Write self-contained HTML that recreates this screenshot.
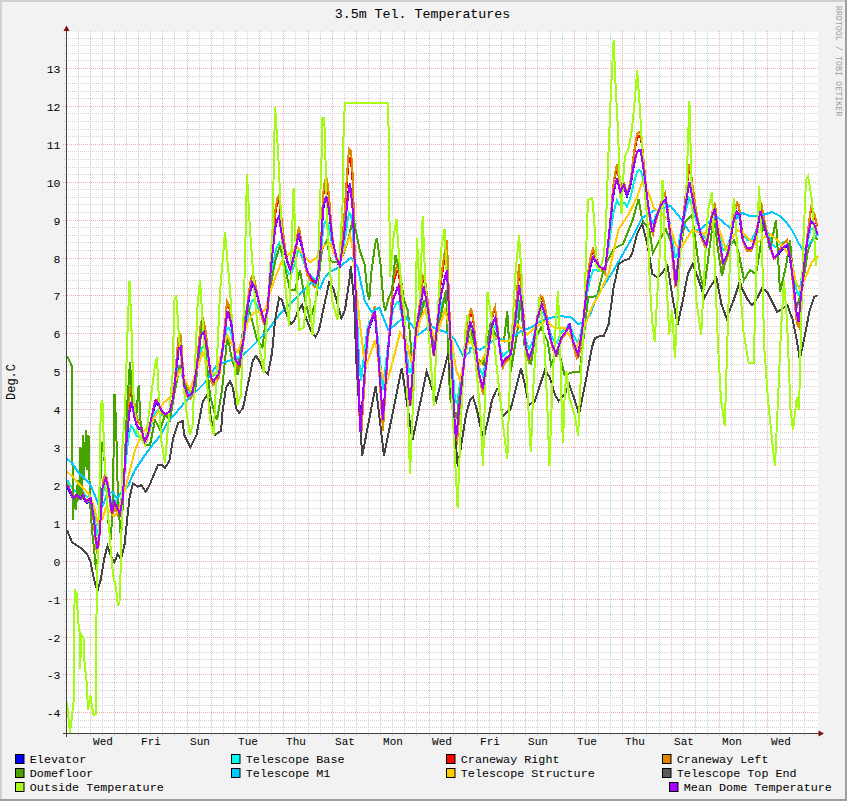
<!DOCTYPE html><html><head><meta charset="utf-8"><style>
html,body{margin:0;padding:0;background:#F2F2F2;overflow:hidden}
svg{display:block}
text{font-family:"Liberation Mono",monospace;fill:#000}
.title{font-size:13.3px}
.lab{font-size:11.5px}
.lab2{font-size:12px}
.labx{font-size:11px}
.leg{font-size:11.75px}
.wm{font-size:8.4px;fill:#A0A0A0}
</style></head><body><svg width="847" height="801" viewBox="0 0 847 801">
<rect x="0" y="0" width="847" height="801" fill="#F2F2F2"/>
<rect x="0" y="0" width="847" height="2" fill="#D0D0D0"/><rect x="0" y="0" width="2" height="801" fill="#D0D0D0"/>
<rect x="845" y="0" width="2" height="801" fill="#9E9E9E"/><rect x="0" y="799" width="847" height="2" fill="#9E9E9E"/>
<rect x="67" y="32" width="751" height="701" fill="#FFFFFF"/>
<path d="M78.5 31V736 M102.5 31V736 M126.5 31V736 M150.5 31V736 M174.5 31V736 M199.5 31V736 M223.5 31V736 M247.5 31V736 M271.5 31V736 M295.5 31V736 M320.5 31V736 M344.5 31V736 M368.5 31V736 M392.5 31V736 M416.5 31V736 M441.5 31V736 M465.5 31V736 M489.5 31V736 M513.5 31V736 M537.5 31V736 M562.5 31V736 M586.5 31V736 M610.5 31V736 M634.5 31V736 M659.5 31V736 M683.5 31V736 M707.5 31V736 M731.5 31V736 M755.5 31V736 M780.5 31V736 M804.5 31V736" stroke="#D2D2D2" stroke-width="1" stroke-dasharray="1 1" fill="none"/>
<path d="M90.5 31V737 M114.5 31V737 M138.5 31V737 M162.5 31V737 M187.5 31V737 M211.5 31V737 M235.5 31V737 M259.5 31V737 M283.5 31V737 M308.5 31V737 M332.5 31V737 M356.5 31V737 M380.5 31V737 M404.5 31V737 M429.5 31V737 M453.5 31V737 M477.5 31V737 M501.5 31V737 M525.5 31V737 M550.5 31V737 M574.5 31V737 M598.5 31V737 M622.5 31V737 M646.5 31V737 M671.5 31V737 M695.5 31V737 M719.5 31V737 M743.5 31V737 M767.5 31V737 M792.5 31V737" stroke="#F0B0B0" stroke-width="1" stroke-dasharray="1 1" fill="none"/>
<path d="M64 727.5H818 M64 720.5H818 M64 705.5H818 M64 697.5H818 M64 690.5H818 M64 682.5H818 M64 667.5H818 M64 659.5H818 M64 652.5H818 M64 644.5H818 M64 629.5H818 M64 621.5H818 M64 614.5H818 M64 606.5H818 M64 591.5H818 M64 583.5H818 M64 576.5H818 M64 568.5H818 M64 553.5H818 M64 546.5H818 M64 538.5H818 M64 530.5H818 M64 515.5H818 M64 508.5H818 M64 500.5H818 M64 492.5H818 M64 477.5H818 M64 470.5H818 M64 462.5H818 M64 455.5H818 M64 439.5H818 M64 432.5H818 M64 424.5H818 M64 417.5H818 M64 402.5H818 M64 394.5H818 M64 386.5H818 M64 379.5H818 M64 364.5H818 M64 356.5H818 M64 348.5H818 M64 341.5H818 M64 326.5H818 M64 318.5H818 M64 311.5H818 M64 303.5H818 M64 288.5H818 M64 280.5H818 M64 273.5H818 M64 265.5H818 M64 250.5H818 M64 242.5H818 M64 235.5H818 M64 227.5H818 M64 212.5H818 M64 204.5H818 M64 197.5H818 M64 189.5H818 M64 174.5H818 M64 167.5H818 M64 159.5H818 M64 151.5H818 M64 136.5H818 M64 129.5H818 M64 121.5H818 M64 113.5H818 M64 98.5H818 M64 91.5H818 M64 83.5H818 M64 76.5H818 M64 60.5H818 M64 53.5H818 M64 45.5H818 M64 38.5H818" stroke="#D2D2D2" stroke-width="1" stroke-dasharray="1 1" fill="none"/>
<path d="M63 712.5H818 M63 674.5H818 M63 637.5H818 M63 599.5H818 M63 561.5H818 M63 523.5H818 M63 485.5H818 M63 447.5H818 M63 409.5H818 M63 371.5H818 M63 333.5H818 M63 295.5H818 M63 258.5H818 M63 220.5H818 M63 182.5H818 M63 144.5H818 M63 106.5H818 M63 68.5H818" stroke="#F0B0B0" stroke-width="1" stroke-dasharray="1 1" fill="none"/>
<text x="60.5" y="716.5" text-anchor="end" class="lab">-4</text>
<text x="60.5" y="678.5" text-anchor="end" class="lab">-3</text>
<text x="60.5" y="641.5" text-anchor="end" class="lab">-2</text>
<text x="60.5" y="603.5" text-anchor="end" class="lab">-1</text>
<text x="60.5" y="565.5" text-anchor="end" class="lab">0</text>
<text x="60.5" y="527.5" text-anchor="end" class="lab">1</text>
<text x="60.5" y="489.5" text-anchor="end" class="lab">2</text>
<text x="60.5" y="451.5" text-anchor="end" class="lab">3</text>
<text x="60.5" y="413.5" text-anchor="end" class="lab">4</text>
<text x="60.5" y="375.5" text-anchor="end" class="lab">5</text>
<text x="60.5" y="337.5" text-anchor="end" class="lab">6</text>
<text x="60.5" y="299.5" text-anchor="end" class="lab">7</text>
<text x="60.5" y="262.5" text-anchor="end" class="lab">8</text>
<text x="60.5" y="224.5" text-anchor="end" class="lab">9</text>
<text x="60.5" y="186.5" text-anchor="end" class="lab">10</text>
<text x="60.5" y="148.5" text-anchor="end" class="lab">11</text>
<text x="60.5" y="110.5" text-anchor="end" class="lab">12</text>
<text x="60.5" y="72.5" text-anchor="end" class="lab">13</text>
<text x="103.0" y="745" text-anchor="middle" class="labx">Wed</text>
<text x="151.0" y="745" text-anchor="middle" class="labx">Fri</text>
<text x="200.0" y="745" text-anchor="middle" class="labx">Sun</text>
<text x="248.0" y="745" text-anchor="middle" class="labx">Tue</text>
<text x="296.0" y="745" text-anchor="middle" class="labx">Thu</text>
<text x="345.0" y="745" text-anchor="middle" class="labx">Sat</text>
<text x="393.0" y="745" text-anchor="middle" class="labx">Mon</text>
<text x="442.0" y="745" text-anchor="middle" class="labx">Wed</text>
<text x="490.0" y="745" text-anchor="middle" class="labx">Fri</text>
<text x="538.0" y="745" text-anchor="middle" class="labx">Sun</text>
<text x="587.0" y="745" text-anchor="middle" class="labx">Tue</text>
<text x="635.0" y="745" text-anchor="middle" class="labx">Thu</text>
<text x="684.0" y="745" text-anchor="middle" class="labx">Sat</text>
<text x="732.0" y="745" text-anchor="middle" class="labx">Mon</text>
<text x="781.0" y="745" text-anchor="middle" class="labx">Wed</text>
<path d="M67.0 486.3 L69.0 490.3 L71.0 494.4 L73.0 498.5 L75.0 498.8 L77.0 496.6 L79.0 498.4 L81.0 499.3 L83.0 496.7 L85.0 500.9 L87.0 502.9 L89.0 501.2 L91.0 502.1 L93.0 514.4 L95.0 532.8 L97.0 549.5 L99.0 540.1 L101.0 513.8 L103.0 487.6 L105.0 481.5 L107.0 483.7 L109.0 493.6 L111.0 509.2 L113.0 510.4 L115.0 505.6 L117.0 509.8 L119.0 514.2 L121.0 510.5 L123.0 495.9 L125.0 465.2 L127.0 437.9 L129.0 415.0 L131.0 404.4 L133.0 408.9 L135.0 419.4 L137.0 425.9 L139.0 428.7 L141.0 428.9 L143.0 436.5 L145.0 442.3 L147.0 438.3 L149.0 431.1 L151.0 420.9 L153.0 412.6 L155.0 404.7 L157.0 402.9 L159.0 406.2 L161.0 411.4 L163.0 413.8 L165.0 415.5 L167.0 415.1 L169.0 413.5 L171.0 408.1 L173.0 400.0 L175.0 383.0 L177.0 363.4 L179.0 349.0 L181.0 350.7 L183.0 374.1 L185.0 389.4 L187.0 394.6 L189.0 397.4 L191.0 396.4 L193.0 391.8 L195.0 379.5 L197.0 366.1 L199.0 349.4 L201.0 335.5 L203.0 333.0 L205.0 337.7 L207.0 348.3 L209.0 362.5 L211.0 379.4 L213.0 382.4 L215.0 381.6 L217.0 378.5 L219.0 375.4 L221.0 361.9 L223.0 347.5 L225.0 331.1 L227.0 314.4 L229.0 316.4 L231.0 322.8 L233.0 338.6 L235.0 357.2 L237.0 364.5 L239.0 366.6 L241.0 358.3 L243.0 344.0 L245.0 328.5 L247.0 312.0 L249.0 298.6 L251.0 288.3 L253.0 284.7 L255.0 289.1 L257.0 295.1 L259.0 303.5 L261.0 311.5 L263.0 318.8 L265.0 322.2 L267.0 315.0 L269.0 293.3 L271.0 268.6 L273.0 248.4 L275.0 229.6 L277.0 220.5 L279.0 216.4 L281.0 229.6 L283.0 241.7 L285.0 252.2 L287.0 261.3 L289.0 267.5 L291.0 269.5 L293.0 261.3 L295.0 252.6 L297.0 242.1 L299.0 235.0 L301.0 243.5 L303.0 252.2 L305.0 262.5 L307.0 272.4 L309.0 275.8 L311.0 279.2 L313.0 281.9 L315.0 283.9 L317.0 281.0 L319.0 267.0 L321.0 246.4 L323.0 210.9 L325.0 199.7 L327.0 199.0 L329.0 209.9 L331.0 228.4 L333.0 243.9 L335.0 252.7 L337.0 260.5 L339.0 265.6 L341.0 258.6 L343.0 243.7 L345.0 225.5 L347.0 204.3 L349.0 187.3 L351.0 190.0 L353.0 211.6 L355.0 274.2 L357.0 336.2 L359.0 397.8 L361.0 427.0 L363.0 397.9 L365.0 370.5 L367.0 344.7 L369.0 328.9 L371.0 323.1 L373.0 317.2 L375.0 314.4 L377.0 339.5 L379.0 366.5 L381.0 395.8 L383.0 422.3 L385.0 394.0 L387.0 365.8 L389.0 341.3 L391.0 320.4 L393.0 299.4 L395.0 294.2 L397.0 288.9 L399.0 290.7 L401.0 305.7 L403.0 320.6 L405.0 346.3 L407.0 371.7 L409.0 397.1 L411.0 396.8 L413.0 370.7 L415.0 344.7 L417.0 325.9 L419.0 314.3 L421.0 302.6 L423.0 291.0 L425.0 293.3 L427.0 304.8 L429.0 318.7 L431.0 334.9 L433.0 350.9 L435.0 347.7 L437.0 328.6 L439.0 309.4 L441.0 295.2 L443.0 286.0 L445.0 276.9 L447.0 270.2 L449.0 310.8 L451.0 351.4 L453.0 391.7 L455.0 432.1 L457.0 433.6 L459.0 413.0 L461.0 393.0 L463.0 373.7 L465.0 354.5 L467.0 341.2 L469.0 328.6 L471.0 323.2 L473.0 329.4 L475.0 343.0 L477.0 359.8 L479.0 374.8 L481.0 382.8 L483.0 390.8 L485.0 375.8 L487.0 360.4 L489.0 346.6 L491.0 332.7 L493.0 323.0 L495.0 318.9 L497.0 328.9 L499.0 343.6 L501.0 358.0 L503.0 365.4 L505.0 361.3 L507.0 359.1 L509.0 357.8 L511.0 354.3 L513.0 339.2 L515.0 323.9 L517.0 305.7 L519.0 285.8 L521.0 297.7 L523.0 314.4 L525.0 339.5 L527.0 353.5 L529.0 359.7 L531.0 354.9 L533.0 347.4 L535.0 335.1 L537.0 322.6 L539.0 313.8 L541.0 306.8 L543.0 308.6 L545.0 315.0 L547.0 322.9 L549.0 332.7 L551.0 342.3 L553.0 348.1 L555.0 353.6 L557.0 354.0 L559.0 347.2 L561.0 340.4 L563.0 337.2 L565.0 334.5 L567.0 331.3 L569.0 327.2 L571.0 332.8 L573.0 343.2 L575.0 348.8 L577.0 354.4 L579.0 352.0 L581.0 340.1 L583.0 325.2 L585.0 306.3 L587.0 288.4 L589.0 274.0 L591.0 264.3 L593.0 258.2 L595.0 260.4 L597.0 263.9 L599.0 267.2 L601.0 269.4 L603.0 270.5 L605.0 271.6 L607.0 254.9 L609.0 236.3 L611.0 217.1 L613.0 197.8 L615.0 186.3 L617.0 178.4 L619.0 187.0 L621.0 191.4 L623.0 187.3 L625.0 190.0 L627.0 196.4 L629.0 190.6 L631.0 182.7 L633.0 170.2 L635.0 160.1 L637.0 151.8 L639.0 150.0 L641.0 152.1 L643.0 165.7 L645.0 181.0 L647.0 197.7 L649.0 212.3 L651.0 226.3 L653.0 231.9 L655.0 223.6 L657.0 217.1 L659.0 211.5 L661.0 206.1 L663.0 203.3 L665.0 200.4 L667.0 208.9 L669.0 225.5 L671.0 241.9 L673.0 259.2 L675.0 279.8 L677.0 277.8 L679.0 255.1 L681.0 238.7 L683.0 223.6 L685.0 209.0 L687.0 196.4 L689.0 183.7 L691.0 189.7 L693.0 200.9 L695.0 211.3 L697.0 219.7 L699.0 228.1 L701.0 236.4 L703.0 241.0 L705.0 245.1 L707.0 243.9 L709.0 232.9 L711.0 221.8 L713.0 214.6 L715.0 211.2 L717.0 225.8 L719.0 239.4 L721.0 251.7 L723.0 264.0 L725.0 261.1 L727.0 256.9 L729.0 249.5 L731.0 237.2 L733.0 224.6 L735.0 217.5 L737.0 212.8 L739.0 214.9 L741.0 228.6 L743.0 241.8 L745.0 245.9 L747.0 249.8 L749.0 249.8 L751.0 249.8 L753.0 246.3 L755.0 239.4 L757.0 232.4 L759.0 219.9 L761.0 213.6 L763.0 221.9 L765.0 229.4 L767.0 236.3 L769.0 243.2 L771.0 250.0 L773.0 256.8 L775.0 258.6 L777.0 256.5 L779.0 253.7 L781.0 250.9 L783.0 248.6 L785.0 247.2 L787.0 245.8 L789.0 254.1 L791.0 265.3 L793.0 281.8 L795.0 300.1 L797.0 318.0 L799.0 320.3 L801.0 299.7 L803.0 279.2 L805.0 260.2 L807.0 243.6 L809.0 231.3 L811.0 221.1 L813.0 223.2 L815.0 226.8 L817.0 233.1" stroke="#0000FF" stroke-width="2" fill="none" shape-rendering="crispEdges"/>
<path d="M67.0 479.9 L69.0 483.0 L71.0 486.3 L73.0 489.8 L75.0 490.9 L77.0 490.2 L79.0 491.9 L81.0 492.9 L83.0 491.7 L85.0 494.9 L87.0 496.8 L89.0 496.2 L91.0 497.6 L93.0 506.9 L95.0 520.3 L97.0 532.6 L99.0 527.5 L101.0 509.6 L103.0 492.0 L105.0 486.4 L107.0 486.2 L109.0 492.1 L111.0 501.9 L113.0 502.6 L115.0 499.6 L117.0 502.6 L119.0 504.7 L121.0 501.3 L123.0 490.6 L125.0 469.2 L127.0 450.4 L129.0 434.3 L131.0 425.9 L133.0 427.5 L135.0 432.9 L137.0 436.0 L139.0 436.8 L141.0 435.8 L143.0 439.7 L145.0 442.4 L147.0 438.7 L149.0 432.8 L151.0 425.0 L153.0 418.6 L155.0 412.5 L157.0 410.6 L159.0 412.1 L161.0 414.8 L163.0 415.4 L165.0 415.6 L167.0 414.4 L169.0 412.5 L171.0 408.2 L173.0 401.9 L175.0 389.9 L177.0 376.1 L179.0 365.7 L181.0 366.0 L183.0 380.5 L185.0 389.9 L187.0 392.7 L189.0 394.0 L191.0 392.7 L193.0 389.1 L195.0 380.4 L197.0 370.9 L199.0 359.2 L201.0 349.4 L203.0 347.1 L205.0 349.5 L207.0 355.7 L209.0 364.2 L211.0 374.8 L213.0 376.0 L215.0 374.7 L217.0 371.8 L219.0 369.3 L221.0 359.9 L223.0 349.9 L225.0 338.7 L227.0 327.4 L229.0 328.3 L231.0 332.1 L233.0 342.1 L235.0 354.1 L237.0 358.5 L239.0 359.5 L241.0 353.6 L243.0 343.4 L245.0 332.2 L247.0 320.4 L249.0 310.7 L251.0 303.0 L253.0 299.7 L255.0 301.7 L257.0 304.7 L259.0 309.5 L261.0 313.9 L263.0 317.9 L265.0 319.3 L267.0 313.6 L269.0 298.1 L271.0 280.8 L273.0 266.6 L275.0 253.4 L277.0 246.7 L279.0 243.3 L281.0 251.3 L283.0 258.7 L285.0 265.0 L287.0 270.4 L289.0 273.9 L291.0 274.6 L293.0 268.5 L295.0 262.2 L297.0 254.7 L299.0 249.4 L301.0 254.3 L303.0 259.5 L305.0 265.9 L307.0 272.1 L309.0 273.9 L311.0 275.8 L313.0 277.6 L315.0 279.3 L317.0 277.6 L319.0 268.5 L321.0 254.3 L323.0 229.8 L325.0 221.4 L327.0 220.3 L329.0 226.9 L331.0 238.7 L333.0 249.0 L335.0 255.2 L337.0 260.7 L339.0 264.3 L341.0 259.8 L343.0 250.1 L345.0 238.0 L347.0 224.2 L349.0 213.2 L351.0 215.2 L353.0 230.6 L355.0 273.0 L357.0 315.4 L359.0 359.0 L361.0 381.1 L363.0 364.3 L365.0 348.2 L367.0 332.0 L369.0 322.4 L371.0 319.6 L373.0 316.1 L375.0 314.5 L377.0 331.3 L379.0 349.6 L381.0 370.4 L383.0 389.4 L385.0 371.8 L387.0 353.9 L389.0 338.1 L391.0 323.9 L393.0 309.7 L395.0 305.8 L397.0 301.9 L399.0 302.6 L401.0 311.9 L403.0 321.1 L405.0 337.5 L407.0 354.7 L409.0 371.9 L411.0 372.1 L413.0 355.1 L415.0 338.2 L417.0 326.1 L419.0 318.9 L421.0 310.8 L423.0 302.8 L425.0 304.2 L427.0 311.7 L429.0 320.8 L431.0 331.8 L433.0 342.9 L435.0 341.1 L437.0 328.6 L439.0 316.2 L441.0 307.0 L443.0 301.2 L445.0 295.4 L447.0 291.5 L449.0 318.5 L451.0 345.8 L453.0 373.3 L455.0 400.9 L457.0 403.1 L459.0 390.4 L461.0 378.0 L463.0 366.1 L465.0 353.5 L467.0 344.6 L469.0 336.1 L471.0 331.8 L473.0 336.2 L475.0 345.4 L477.0 356.5 L479.0 366.5 L481.0 371.5 L483.0 376.2 L485.0 365.7 L487.0 354.9 L489.0 345.2 L491.0 335.6 L493.0 328.8 L495.0 325.6 L497.0 331.7 L499.0 341.4 L501.0 351.1 L503.0 356.2 L505.0 353.6 L507.0 352.1 L509.0 350.8 L511.0 347.9 L513.0 337.3 L515.0 326.8 L517.0 314.4 L519.0 301.0 L521.0 308.5 L523.0 319.2 L525.0 335.6 L527.0 344.7 L529.0 348.6 L531.0 345.2 L533.0 339.9 L535.0 331.3 L537.0 322.7 L539.0 316.7 L541.0 311.8 L543.0 312.9 L545.0 317.1 L547.0 322.4 L549.0 328.8 L551.0 335.1 L553.0 338.9 L555.0 342.4 L557.0 342.5 L559.0 337.8 L561.0 333.0 L563.0 330.8 L565.0 328.8 L567.0 326.6 L569.0 323.7 L571.0 327.3 L573.0 334.3 L575.0 338.3 L577.0 342.1 L579.0 340.3 L581.0 331.8 L583.0 321.1 L585.0 307.8 L587.0 294.9 L589.0 284.2 L591.0 276.3 L593.0 270.4 L595.0 270.0 L597.0 270.4 L599.0 271.2 L601.0 271.2 L603.0 270.6 L605.0 269.9 L607.0 257.3 L609.0 243.6 L611.0 229.5 L613.0 215.5 L615.0 206.6 L617.0 200.2 L619.0 204.6 L621.0 206.3 L623.0 202.5 L625.0 203.3 L627.0 206.5 L629.0 201.7 L631.0 195.5 L633.0 186.4 L635.0 178.7 L637.0 172.3 L639.0 170.3 L641.0 170.9 L643.0 179.3 L645.0 189.2 L647.0 200.1 L649.0 209.9 L651.0 219.4 L653.0 223.2 L655.0 217.8 L657.0 213.5 L659.0 209.9 L661.0 206.4 L663.0 204.6 L665.0 202.8 L667.0 208.4 L669.0 219.4 L671.0 230.6 L673.0 242.8 L675.0 257.1 L677.0 256.4 L679.0 241.9 L681.0 231.7 L683.0 222.3 L685.0 213.6 L687.0 206.0 L689.0 198.5 L691.0 202.6 L693.0 209.9 L695.0 216.7 L697.0 222.2 L699.0 227.6 L701.0 232.8 L703.0 235.4 L705.0 237.7 L707.0 236.5 L709.0 228.8 L711.0 221.1 L713.0 216.1 L715.0 213.6 L717.0 223.4 L719.0 232.9 L721.0 241.7 L723.0 250.4 L725.0 248.9 L727.0 246.6 L729.0 242.1 L731.0 233.7 L733.0 224.7 L735.0 219.4 L737.0 215.6 L739.0 216.5 L741.0 225.2 L743.0 233.9 L745.0 236.8 L747.0 239.6 L749.0 239.8 L751.0 239.8 L753.0 237.5 L755.0 232.9 L757.0 228.4 L759.0 220.2 L761.0 216.2 L763.0 221.7 L765.0 226.6 L767.0 231.2 L769.0 235.8 L771.0 240.4 L773.0 245.3 L775.0 247.0 L777.0 246.0 L779.0 244.5 L781.0 243.1 L783.0 242.0 L785.0 241.6 L787.0 241.2 L789.0 247.3 L791.0 255.3 L793.0 267.0 L795.0 280.1 L797.0 292.8 L799.0 295.0 L801.0 281.9 L803.0 268.8 L805.0 255.7 L807.0 244.3 L809.0 235.7 L811.0 228.4 L813.0 229.2 L815.0 230.9 L817.0 234.5" stroke="#00F0E0" stroke-width="2" fill="none" shape-rendering="crispEdges"/>
<path d="M67.0 482.8 L69.0 487.7 L71.0 492.5 L73.0 497.0 L75.0 496.9 L77.0 493.9 L79.0 496.2 L81.0 497.5 L83.0 494.0 L85.0 499.4 L87.0 501.4 L89.0 499.3 L91.0 500.2 L93.0 513.4 L95.0 532.6 L97.0 550.1 L99.0 540.3 L101.0 512.8 L103.0 481.8 L105.0 474.8 L107.0 478.9 L109.0 492.3 L111.0 508.7 L113.0 510.1 L115.0 505.2 L117.0 509.8 L119.0 514.5 L121.0 510.9 L123.0 495.7 L125.0 463.7 L127.0 429.3 L129.0 400.2 L131.0 387.3 L133.0 394.1 L135.0 409.0 L137.0 418.6 L139.0 423.6 L141.0 424.9 L143.0 435.2 L145.0 441.4 L147.0 437.4 L149.0 430.1 L151.0 419.6 L153.0 410.7 L155.0 401.2 L157.0 399.5 L159.0 404.2 L161.0 410.2 L163.0 412.7 L165.0 414.5 L167.0 414.2 L169.0 412.6 L171.0 407.1 L173.0 398.7 L175.0 378.6 L177.0 353.9 L179.0 335.9 L181.0 338.9 L183.0 370.4 L185.0 388.4 L187.0 393.9 L189.0 396.9 L191.0 395.9 L193.0 391.2 L195.0 378.4 L197.0 363.1 L199.0 341.9 L201.0 324.4 L203.0 321.8 L205.0 328.4 L207.0 342.5 L209.0 361.1 L211.0 378.9 L213.0 382.0 L215.0 381.3 L217.0 378.1 L219.0 375.0 L221.0 360.9 L223.0 345.6 L225.0 324.7 L227.0 303.4 L229.0 306.6 L231.0 315.6 L233.0 337.1 L235.0 356.7 L237.0 364.4 L239.0 366.8 L241.0 358.2 L243.0 343.3 L245.0 327.3 L247.0 308.2 L249.0 291.9 L251.0 279.7 L253.0 276.1 L255.0 283.0 L257.0 292.0 L259.0 302.3 L261.0 310.9 L263.0 318.8 L265.0 322.5 L267.0 315.1 L269.0 292.6 L271.0 265.2 L273.0 239.5 L275.0 215.7 L277.0 204.2 L279.0 199.3 L281.0 216.9 L283.0 233.0 L285.0 247.2 L287.0 259.5 L289.0 266.4 L291.0 268.5 L293.0 260.0 L295.0 249.8 L297.0 236.6 L299.0 227.8 L301.0 239.4 L303.0 250.7 L305.0 261.5 L307.0 271.9 L309.0 275.5 L311.0 279.1 L313.0 281.8 L315.0 284.0 L317.0 281.0 L319.0 266.3 L321.0 244.1 L323.0 197.9 L325.0 183.8 L327.0 183.5 L329.0 198.1 L331.0 222.0 L333.0 241.4 L335.0 251.2 L337.0 259.2 L339.0 264.3 L341.0 254.9 L343.0 234.7 L345.0 210.0 L347.0 181.4 L349.0 157.8 L351.0 159.9 L353.0 186.5 L355.0 266.8 L357.0 336.4 L359.0 400.7 L361.0 431.1 L363.0 400.4 L365.0 371.5 L367.0 344.3 L369.0 327.7 L371.0 320.9 L373.0 312.2 L375.0 307.2 L377.0 338.1 L379.0 366.2 L381.0 396.8 L383.0 424.4 L385.0 394.7 L387.0 365.2 L389.0 338.5 L391.0 311.4 L393.0 284.2 L395.0 277.5 L397.0 270.9 L399.0 273.6 L401.0 293.5 L403.0 313.5 L405.0 345.3 L407.0 372.0 L409.0 398.7 L411.0 398.5 L413.0 371.3 L415.0 344.0 L417.0 324.4 L419.0 309.4 L421.0 294.3 L423.0 279.1 L425.0 281.7 L427.0 296.2 L429.0 313.5 L431.0 333.4 L433.0 350.1 L435.0 346.7 L437.0 324.5 L439.0 299.3 L441.0 280.6 L443.0 268.5 L445.0 256.3 L447.0 247.3 L449.0 300.2 L451.0 350.3 L453.0 392.5 L455.0 434.7 L457.0 436.3 L459.0 414.5 L461.0 393.5 L463.0 373.3 L465.0 353.0 L467.0 335.6 L469.0 318.6 L471.0 311.1 L473.0 318.5 L475.0 335.8 L477.0 357.6 L479.0 374.0 L481.0 382.5 L483.0 391.0 L485.0 375.4 L487.0 359.3 L489.0 344.0 L491.0 326.2 L493.0 314.0 L495.0 309.1 L497.0 322.4 L499.0 341.9 L501.0 357.2 L503.0 365.0 L505.0 360.7 L507.0 358.4 L509.0 357.1 L511.0 353.5 L513.0 337.8 L515.0 318.6 L517.0 295.0 L519.0 269.0 L521.0 284.8 L523.0 306.7 L525.0 338.3 L527.0 353.0 L529.0 359.5 L531.0 354.5 L533.0 346.7 L535.0 333.7 L537.0 318.4 L539.0 306.9 L541.0 297.6 L543.0 299.8 L545.0 307.7 L547.0 317.7 L549.0 330.1 L551.0 341.1 L553.0 347.1 L555.0 352.9 L557.0 353.4 L559.0 346.3 L561.0 339.2 L563.0 336.0 L565.0 333.2 L567.0 330.0 L569.0 325.8 L571.0 331.8 L573.0 342.7 L575.0 348.8 L577.0 354.8 L579.0 352.4 L581.0 340.1 L583.0 324.6 L585.0 305.0 L587.0 284.4 L589.0 267.2 L591.0 256.2 L593.0 250.2 L595.0 254.8 L597.0 261.0 L599.0 266.0 L601.0 268.5 L603.0 270.0 L605.0 271.4 L607.0 254.2 L609.0 235.1 L611.0 213.1 L613.0 189.5 L615.0 175.9 L617.0 166.9 L619.0 179.3 L621.0 185.9 L623.0 181.4 L625.0 185.5 L627.0 194.4 L629.0 187.4 L631.0 177.5 L633.0 161.6 L635.0 148.8 L637.0 138.0 L639.0 135.7 L641.0 138.4 L643.0 155.8 L645.0 175.3 L647.0 196.2 L649.0 211.4 L651.0 225.9 L653.0 231.7 L655.0 222.9 L657.0 215.9 L659.0 209.9 L661.0 202.3 L663.0 198.1 L665.0 193.9 L667.0 204.5 L669.0 224.3 L671.0 241.4 L673.0 259.5 L675.0 281.0 L677.0 278.9 L679.0 255.1 L681.0 237.9 L683.0 221.4 L685.0 202.0 L687.0 185.3 L689.0 168.6 L691.0 176.2 L693.0 190.6 L695.0 204.1 L697.0 214.9 L699.0 225.8 L701.0 235.2 L703.0 240.1 L705.0 244.4 L707.0 243.2 L709.0 231.7 L711.0 218.3 L713.0 208.7 L715.0 203.9 L717.0 222.6 L719.0 238.2 L721.0 251.0 L723.0 263.9 L725.0 260.8 L727.0 256.4 L729.0 248.6 L731.0 235.6 L733.0 219.3 L735.0 210.2 L737.0 204.1 L739.0 206.7 L741.0 224.5 L743.0 240.5 L745.0 244.8 L747.0 248.9 L749.0 248.9 L751.0 248.9 L753.0 245.2 L755.0 238.0 L757.0 229.1 L759.0 212.4 L761.0 203.8 L763.0 214.3 L765.0 223.6 L767.0 232.1 L769.0 240.6 L771.0 248.6 L773.0 255.6 L775.0 257.3 L777.0 255.0 L779.0 251.3 L781.0 247.4 L783.0 244.2 L785.0 242.3 L787.0 240.3 L789.0 251.3 L791.0 264.2 L793.0 281.4 L795.0 300.7 L797.0 319.4 L799.0 321.9 L801.0 300.4 L803.0 278.9 L805.0 259.0 L807.0 239.0 L809.0 223.0 L811.0 209.8 L813.0 212.8 L815.0 217.7 L817.0 226.4" stroke="#FF0000" stroke-width="2" fill="none" shape-rendering="crispEdges"/>
<path d="M67.0 483.1 L69.0 488.4 L71.0 493.4 L73.0 498.0 L75.0 497.8 L77.0 494.5 L79.0 496.9 L81.0 498.4 L83.0 494.6 L85.0 500.4 L87.0 502.5 L89.0 500.2 L91.0 501.0 L93.0 515.1 L95.0 535.5 L97.0 554.1 L99.0 543.7 L101.0 514.4 L103.0 481.3 L105.0 473.9 L107.0 478.7 L109.0 493.4 L111.0 511.1 L113.0 512.8 L115.0 507.8 L117.0 512.8 L119.0 518.1 L121.0 514.4 L123.0 498.6 L125.0 464.8 L127.0 427.7 L129.0 396.4 L131.0 382.6 L133.0 390.3 L135.0 406.7 L137.0 417.5 L139.0 423.3 L141.0 425.0 L143.0 436.4 L145.0 443.3 L147.0 439.3 L149.0 431.7 L151.0 420.8 L153.0 411.6 L155.0 401.5 L157.0 399.8 L159.0 405.0 L161.0 411.5 L163.0 414.3 L165.0 416.2 L167.0 416.0 L169.0 414.4 L171.0 408.7 L173.0 400.0 L175.0 378.5 L177.0 352.0 L179.0 332.7 L181.0 336.2 L183.0 370.6 L185.0 390.0 L187.0 396.0 L189.0 399.3 L191.0 398.3 L193.0 393.4 L195.0 379.8 L197.0 363.6 L199.0 340.7 L201.0 321.9 L203.0 319.2 L205.0 326.5 L207.0 342.0 L209.0 362.2 L211.0 381.2 L213.0 384.7 L215.0 384.0 L217.0 380.7 L219.0 377.5 L221.0 362.6 L223.0 346.4 L225.0 323.9 L227.0 300.9 L229.0 304.7 L231.0 314.5 L233.0 338.0 L235.0 359.1 L237.0 367.5 L239.0 370.1 L241.0 361.2 L243.0 345.5 L245.0 328.6 L247.0 308.3 L249.0 291.0 L251.0 278.1 L253.0 274.5 L255.0 282.4 L257.0 292.5 L259.0 303.8 L261.0 313.2 L263.0 321.9 L265.0 326.1 L267.0 318.4 L269.0 294.6 L271.0 265.5 L273.0 237.9 L275.0 212.1 L277.0 199.9 L279.0 194.6 L281.0 213.8 L283.0 231.4 L285.0 246.9 L287.0 260.4 L289.0 267.8 L291.0 270.2 L293.0 261.2 L295.0 250.4 L297.0 236.1 L299.0 226.7 L301.0 239.4 L303.0 251.8 L305.0 263.3 L307.0 274.4 L309.0 278.1 L311.0 282.0 L313.0 284.9 L315.0 287.2 L317.0 284.0 L319.0 268.4 L321.0 244.8 L323.0 194.8 L325.0 179.6 L327.0 179.4 L329.0 195.3 L331.0 221.2 L333.0 242.0 L335.0 252.2 L337.0 260.3 L339.0 265.5 L341.0 255.1 L343.0 233.0 L345.0 206.0 L347.0 174.6 L349.0 148.6 L351.0 150.5 L353.0 178.9 L355.0 265.7 L357.0 339.9 L359.0 407.9 L361.0 439.9 L363.0 407.0 L365.0 376.0 L367.0 347.0 L369.0 329.1 L371.0 321.7 L373.0 311.9 L375.0 306.1 L377.0 339.2 L379.0 368.9 L381.0 401.2 L383.0 430.5 L385.0 398.8 L387.0 367.4 L389.0 339.0 L391.0 309.7 L393.0 280.2 L395.0 273.0 L397.0 265.9 L399.0 269.0 L401.0 290.6 L403.0 312.4 L405.0 346.9 L407.0 375.4 L409.0 404.1 L411.0 404.0 L413.0 375.1 L415.0 346.2 L417.0 325.4 L419.0 309.1 L421.0 292.8 L423.0 276.3 L425.0 279.0 L427.0 294.6 L429.0 313.1 L431.0 334.5 L433.0 352.0 L435.0 348.4 L437.0 324.6 L439.0 297.2 L441.0 276.9 L443.0 263.6 L445.0 250.4 L447.0 240.5 L449.0 297.8 L451.0 352.0 L453.0 396.7 L455.0 441.5 L457.0 443.0 L459.0 419.8 L461.0 397.4 L463.0 375.7 L465.0 354.1 L467.0 335.1 L469.0 316.5 L471.0 308.2 L473.0 316.0 L475.0 334.7 L477.0 358.3 L479.0 375.9 L481.0 385.1 L483.0 394.4 L485.0 377.9 L487.0 360.9 L489.0 344.6 L491.0 325.3 L493.0 312.2 L495.0 307.1 L497.0 321.7 L499.0 342.8 L501.0 359.1 L503.0 367.4 L505.0 362.9 L507.0 360.6 L509.0 359.3 L511.0 355.5 L513.0 338.9 L515.0 318.3 L517.0 292.7 L519.0 264.5 L521.0 281.6 L523.0 305.5 L525.0 339.7 L527.0 355.4 L529.0 362.4 L531.0 357.0 L533.0 348.7 L535.0 335.0 L537.0 318.4 L539.0 305.9 L541.0 295.8 L543.0 298.1 L545.0 306.7 L547.0 317.4 L549.0 330.7 L551.0 342.5 L553.0 348.9 L555.0 355.1 L557.0 355.7 L559.0 348.2 L561.0 340.7 L563.0 337.3 L565.0 334.5 L567.0 331.2 L569.0 326.9 L571.0 333.4 L573.0 345.2 L575.0 351.8 L577.0 358.3 L579.0 356.0 L581.0 343.1 L583.0 326.9 L585.0 306.4 L587.0 284.4 L589.0 266.2 L591.0 254.8 L593.0 248.8 L595.0 254.2 L597.0 261.5 L599.0 267.3 L601.0 270.4 L603.0 272.4 L605.0 274.3 L607.0 256.4 L609.0 236.5 L611.0 213.2 L613.0 188.0 L615.0 173.7 L617.0 164.2 L619.0 178.0 L621.0 185.5 L623.0 180.7 L625.0 185.4 L627.0 195.2 L629.0 187.7 L631.0 177.2 L633.0 160.1 L635.0 146.2 L637.0 134.5 L639.0 132.0 L641.0 134.9 L643.0 153.8 L645.0 174.8 L647.0 197.3 L649.0 213.3 L651.0 228.5 L653.0 234.5 L655.0 225.0 L657.0 217.4 L659.0 210.9 L661.0 202.5 L663.0 197.7 L665.0 193.1 L667.0 204.5 L669.0 225.7 L671.0 243.8 L673.0 263.0 L675.0 285.9 L677.0 283.6 L679.0 258.2 L681.0 239.9 L683.0 222.1 L685.0 201.0 L687.0 182.8 L689.0 164.6 L691.0 172.9 L693.0 188.4 L695.0 203.0 L697.0 214.7 L699.0 226.5 L701.0 236.6 L703.0 241.9 L705.0 246.6 L707.0 245.3 L709.0 233.0 L711.0 218.6 L713.0 208.1 L715.0 202.8 L717.0 222.9 L719.0 239.6 L721.0 253.2 L723.0 266.8 L725.0 263.4 L727.0 258.7 L729.0 250.4 L731.0 236.6 L733.0 218.9 L735.0 209.1 L737.0 202.5 L739.0 205.3 L741.0 224.6 L743.0 241.8 L745.0 246.3 L747.0 250.7 L749.0 250.7 L751.0 250.7 L753.0 246.8 L755.0 239.1 L757.0 229.5 L759.0 211.2 L761.0 201.7 L763.0 213.1 L765.0 223.0 L767.0 232.1 L769.0 241.3 L771.0 249.7 L773.0 256.9 L775.0 258.6 L777.0 256.1 L779.0 251.9 L781.0 247.6 L783.0 244.2 L785.0 242.1 L787.0 239.9 L789.0 251.8 L791.0 265.6 L793.0 284.0 L795.0 304.5 L797.0 324.5 L799.0 327.2 L801.0 304.4 L803.0 281.5 L805.0 260.5 L807.0 238.9 L809.0 221.6 L811.0 207.3 L813.0 210.5 L815.0 215.9 L817.0 225.5" stroke="#E08A00" stroke-width="2" fill="none" shape-rendering="crispEdges"/>
<path d="M67.0 356.0 L69.0 360.0 L71.0 364.0 L72.0 367.0 L72.8 520.0 L74.5 495.0 L76.0 510.0 L77.8 480.0 L79.0 500.0 L80.5 447.0 L81.5 500.0 L82.8 435.0 L84.0 480.0 L86.0 430.0 L87.0 470.0 L88.5 435.0 L90.0 502.0 L92.0 530.0 L94.0 549.0 L96.0 570.0 L98.0 555.0 L100.0 500.0 L101.0 460.0 L102.0 442.0 L104.0 455.0 L106.0 480.0 L108.0 520.0 L111.0 540.0 L113.0 490.0 L114.5 394.0 L116.0 420.0 L118.0 500.0 L121.0 540.0 L124.0 480.0 L127.0 408.0 L130.0 362.0 L133.0 410.0 L136.0 420.0 L138.7 385.0 L141.0 430.0 L145.0 445.0 L150.0 445.0 L155.0 420.0 L160.0 430.0 L165.0 415.0 L170.0 420.0 L175.0 390.0 L180.0 365.0 L187.5 390.0 L195.0 392.0 L202.5 320.0 L210.0 395.0 L213.7 410.0 L217.0 420.0 L222.0 390.0 L227.5 335.0 L232.0 360.0 L237.5 375.0 L243.0 330.0 L247.5 305.0 L252.0 320.0 L257.0 340.0 L262.5 347.5 L268.0 300.0 L275.0 262.0 L280.0 245.0 L285.0 267.5 L290.0 290.0 L295.0 290.0 L300.0 270.0 L305.0 300.0 L310.0 320.0 L316.0 300.0 L322.0 250.0 L327.0 240.0 L330.0 260.5 L333.7 262.4 L338.0 262.0 L343.1 254.9 L348.0 240.0 L353.4 217.5 L356.2 232.4 L360.0 251.2 L364.6 264.3 L367.5 292.4 L369.3 299.9 L371.2 273.6 L375.0 245.5 L376.8 238.0 L380.6 264.3 L383.4 301.7 L385.2 311.1 L388.0 300.0 L392.0 290.0 L395.5 254.9 L400.2 273.6 L404.0 300.0 L408.0 311.0 L412.0 360.0 L418.0 330.0 L424.0 300.0 L430.0 320.0 L434.0 345.0 L440.0 320.0 L446.0 290.0 L450.0 398.5 L456.7 418.7 L463.5 364.8 L470.2 327.7 L477.0 358.0 L483.7 364.8 L490.4 324.4 L497.2 337.9 L503.9 341.2 L507.3 310.9 L510.7 371.6 L517.4 331.1 L520.8 297.4 L524.1 344.6 L530.9 364.8 L534.3 341.2 L541.0 327.7 L547.7 341.2 L551.1 364.8 L557.9 348.0 L564.6 374.9 L574.7 371.6 L579.8 371.6 L588.2 297.4 L597.1 296.0 L604.2 267.6 L613.7 248.6 L623.2 243.9 L632.7 220.1 L638.6 198.8 L642.2 220.1 L649.3 229.6 L652.9 253.3 L658.8 241.5 L665.9 229.6 L671.8 243.9 L675.4 277.0 L684.9 222.5 L692.0 215.4 L700.0 274.0 L704.0 290.0 L708.0 260.0 L714.0 214.0 L718.0 250.0 L722.0 276.0 L728.0 250.0 L734.0 240.0 L738.0 250.0 L744.0 280.0 L750.0 270.0 L756.0 274.0 L760.0 250.0 L764.0 220.0 L770.0 250.0 L776.0 220.0 L780.0 292.0 L786.0 266.0 L790.0 240.0 L796.0 310.0 L802.0 290.0 L808.0 250.0 L814.0 236.0 L818.0 240.0" stroke="#46A400" stroke-width="2" fill="none" shape-rendering="crispEdges"/>
<path d="M67.0 459.0 L72.0 463.0 L78.0 472.0 L84.0 478.0 L90.0 484.0 L96.0 498.0 L99.0 506.0 L103.0 505.0 L107.0 494.0 L112.0 492.0 L117.0 498.0 L122.0 492.0 L128.0 486.0 L135.0 470.0 L145.0 455.0 L152.5 445.0 L160.0 436.0 L167.5 422.5 L175.0 414.0 L182.5 405.0 L192.0 394.0 L195.0 392.5 L205.0 382.5 L217.1 364.9 L229.4 360.7 L241.8 356.6 L254.2 344.3 L266.5 331.9 L278.9 315.4 L291.2 303.0 L303.6 290.7 L311.8 282.5 L320.1 288.6 L324.2 278.3 L330.0 272.2 L340.6 266.0 L350.9 257.7 L357.1 266.0 L358.0 269.0 L364.7 300.7 L371.5 312.0 L379.3 307.4 L388.3 330.0 L395.0 325.0 L405.2 316.0 L412.0 325.4 L418.7 334.4 L430.0 326.0 L439.0 330.0 L445.6 332.0 L454.6 339.0 L463.6 357.0 L470.0 352.0 L470.2 348.0 L480.3 349.7 L497.2 337.9 L507.3 341.2 L520.8 331.1 L530.9 327.7 L541.0 321.0 L551.1 317.6 L561.2 316.0 L571.3 317.6 L578.1 324.4 L584.8 321.0 L590.0 315.0 L597.1 296.0 L613.7 270.0 L632.7 236.7 L642.2 217.8 L654.0 210.6 L670.6 205.9 L680.1 217.8 L689.6 232.0 L700.0 229.6 L716.0 216.0 L730.0 228.0 L738.0 216.0 L742.0 213.0 L750.0 216.0 L760.0 216.0 L772.0 212.0 L780.0 216.0 L786.0 222.0 L792.0 230.0 L798.0 242.0 L803.0 250.0 L808.0 246.0 L814.0 238.0 L818.0 234.0" stroke="#00C8FF" stroke-width="2" fill="none" shape-rendering="crispEdges"/>
<path d="M67.0 472.0 L72.0 476.0 L78.0 483.0 L84.0 489.0 L89.0 494.0 L94.0 506.0 L98.0 524.0 L102.0 520.0 L106.0 508.0 L110.0 512.0 L114.0 516.0 L118.0 512.0 L122.0 498.0 L126.0 486.0 L130.0 470.0 L135.0 450.0 L142.5 432.5 L150.0 425.0 L157.5 412.5 L163.7 402.5 L170.0 397.5 L175.0 382.5 L180.0 370.0 L190.0 390.0 L195.0 375.0 L202.5 352.5 L212.5 375.0 L217.5 370.0 L222.5 347.5 L227.5 335.0 L232.0 345.0 L237.5 352.5 L242.0 340.0 L247.5 322.5 L253.7 312.5 L259.0 312.0 L265.0 310.0 L270.0 292.5 L276.2 275.0 L282.5 260.0 L287.5 255.0 L292.0 252.0 L297.5 247.5 L303.7 255.0 L310.0 262.5 L316.0 258.0 L321.0 250.0 L325.0 245.0 L330.0 243.0 L335.0 255.0 L340.0 262.0 L345.0 248.0 L350.0 235.0 L353.0 250.0 L356.2 287.5 L360.0 325.0 L363.7 355.0 L366.2 365.0 L370.0 355.0 L375.0 340.0 L380.0 367.5 L386.2 385.0 L392.5 362.5 L400.0 332.5 L407.5 345.0 L411.2 362.5 L415.0 345.0 L420.0 320.0 L425.0 310.0 L430.0 325.0 L435.0 340.0 L440.0 325.0 L445.0 310.0 L450.0 330.0 L456.2 370.0 L460.0 380.0 L467.5 345.0 L471.2 340.0 L480.0 365.0 L487.0 350.0 L492.0 334.5 L500.6 341.2 L509.0 341.2 L517.4 324.4 L527.5 334.5 L534.3 327.7 L546.0 321.0 L554.5 327.7 L564.6 327.7 L576.4 348.0 L583.1 331.1 L591.6 307.5 L599.5 293.7 L609.0 272.3 L618.5 229.6 L628.0 215.4 L637.4 196.4 L642.2 182.2 L648.1 191.7 L654.0 208.3 L661.2 213.0 L668.3 220.1 L675.4 243.8 L680.1 250.0 L686.0 240.0 L692.0 230.0 L704.0 234.0 L710.0 226.0 L716.0 220.0 L721.0 235.0 L726.0 250.0 L732.0 238.0 L738.0 230.0 L744.0 234.0 L750.0 240.0 L756.0 244.0 L763.0 238.0 L770.0 234.0 L777.0 240.0 L784.0 248.0 L790.0 256.0 L796.0 282.0 L800.0 290.0 L806.0 276.0 L812.0 262.0 L818.0 256.0" stroke="#FFCC00" stroke-width="2" fill="none" shape-rendering="crispEdges"/>
<path d="M67.1 530.6 L72.1 542.4 L77.2 545.7 L82.2 549.1 L87.3 554.2 L90.7 562.6 L94.0 579.4 L97.4 591.2 L100.8 579.4 L104.1 559.2 L107.5 545.7 L110.9 555.8 L114.2 562.6 L117.6 554.2 L121.0 559.2 L124.4 545.7 L129.4 498.5 L132.8 483.4 L137.8 486.7 L141.2 485.1 L145.6 491.8 L149.6 485.1 L153.7 474.9 L158.1 464.8 L161.4 464.8 L164.8 468.2 L169.2 461.5 L173.2 437.9 L178.3 422.7 L182.7 421.0 L184.1 434.9 L190.3 447.2 L196.5 434.9 L202.7 401.9 L208.0 393.7 L210.9 418.4 L215.0 434.9 L221.2 430.7 L222.0 416.0 L226.0 388.0 L230.0 381.0 L233.0 388.0 L236.0 408.0 L239.0 413.0 L243.0 408.0 L248.0 384.0 L253.0 360.0 L256.0 356.0 L260.0 362.0 L263.0 370.0 L268.0 374.0 L272.0 353.0 L275.0 321.0 L279.0 298.0 L282.0 300.0 L285.0 311.0 L291.0 324.0 L294.0 321.0 L298.0 311.0 L302.0 305.0 L306.0 318.0 L311.0 331.0 L315.5 337.0 L319.0 330.0 L323.6 308.0 L329.3 282.0 L333.3 288.0 L338.0 306.0 L341.4 318.0 L345.0 310.0 L349.5 279.0 L350.9 266.0 L354.2 303.0 L356.3 360.7 L362.2 455.7 L375.7 385.7 L384.0 455.7 L401.8 368.0 L412.5 440.3 L426.7 371.5 L436.2 401.2 L448.1 353.7 L457.6 465.2 L458.0 466.0 L462.0 440.0 L466.0 415.0 L470.0 400.0 L473.0 397.0 L477.0 410.0 L480.0 425.0 L483.5 438.6 L488.0 420.0 L492.0 400.0 L496.7 389.5 L498.4 388.2 L502.7 416.5 L506.0 413.0 L510.5 409.4 L515.0 392.0 L521.0 368.0 L525.0 385.0 L528.9 405.0 L535.0 401.0 L540.0 385.0 L545.0 370.0 L550.0 378.0 L555.0 395.0 L558.6 401.0 L565.0 394.0 L569.0 384.0 L574.0 398.0 L579.0 414.0 L585.0 385.0 L592.0 347.0 L595.0 338.0 L600.0 336.2 L603.5 336.5 L608.5 324.7 L613.6 287.6 L618.7 264.0 L623.7 260.7 L628.8 259.0 L632.1 253.9 L637.2 233.7 L642.2 223.6 L647.3 243.8 L652.4 274.2 L657.4 277.5 L662.5 272.5 L667.5 265.7 L672.6 297.8 L677.6 324.7 L682.7 301.1 L687.8 274.2 L692.8 264.0 L697.9 277.5 L704.6 297.8 L709.7 287.6 L716.4 277.5 L721.5 304.5 L726.5 318.0 L733.3 301.1 L740.0 280.9 L741.9 288.4 L746.9 298.5 L752.0 305.3 L757.0 298.5 L762.1 288.4 L767.1 291.8 L772.2 301.9 L777.2 312.0 L782.3 308.7 L787.4 305.3 L792.4 318.8 L796.5 339.0 L799.8 359.2 L804.2 339.0 L809.3 312.0 L814.3 296.9 L817.7 295.2" stroke="#444444" stroke-width="2" fill="none" shape-rendering="crispEdges"/>
<path d="M67.0 702.0 L70.0 733.0 L74.0 698.0 L74.6 589.0 L77.0 594.0 L77.8 619.0 L80.0 635.0 L80.0 669.0 L81.6 635.0 L83.5 638.0 L84.0 657.0 L86.6 682.0 L88.0 710.0 L90.4 695.0 L92.0 707.0 L93.6 715.0 L95.8 714.0 L96.7 590.0 L99.3 508.0 L100.0 440.0 L101.0 405.0 L102.4 400.0 L104.0 448.0 L107.0 500.0 L110.0 540.0 L113.0 575.0 L116.0 588.0 L118.0 606.0 L119.5 602.0 L121.0 560.0 L122.0 500.0 L122.5 445.0 L125.0 410.0 L127.5 332.5 L129.5 281.0 L131.2 320.0 L133.7 400.0 L137.5 432.5 L145.0 445.0 L151.2 395.0 L155.0 365.0 L157.0 357.5 L158.7 395.0 L161.2 440.0 L165.0 462.5 L172.5 375.0 L174.5 300.0 L176.2 295.0 L178.7 332.5 L182.5 375.0 L186.2 410.0 L190.0 435.0 L192.5 425.0 L197.5 307.5 L200.0 280.0 L202.5 320.0 L206.0 370.0 L210.0 420.0 L213.7 435.0 L220.0 292.0 L225.0 232.5 L230.0 290.0 L235.0 370.0 L237.5 405.0 L241.0 395.0 L244.0 300.0 L247.0 174.0 L250.0 230.0 L255.0 300.0 L260.0 350.0 L263.7 372.5 L268.0 300.0 L272.5 230.0 L275.0 107.0 L278.0 150.0 L283.0 260.0 L289.0 326.0 L293.6 188.0 L296.0 255.0 L299.0 330.0 L303.7 327.5 L308.0 280.0 L312.5 335.0 L317.5 280.0 L320.0 205.0 L322.0 142.5 L322.5 117.5 L324.2 117.5 L325.0 142.5 L327.5 230.0 L332.0 300.0 L337.5 320.0 L340.0 250.0 L342.5 205.0 L343.7 125.0 L345.0 102.5 L387.5 102.5 L388.7 130.0 L390.0 277.0 L393.7 236.0 L396.5 219.0 L400.0 270.0 L405.0 320.0 L410.0 474.0 L414.0 380.0 L417.0 238.0 L420.0 300.0 L422.7 215.6 L426.0 300.0 L430.0 350.0 L433.9 405.9 L437.0 330.0 L441.0 250.0 L444.5 228.7 L448.0 300.0 L452.0 400.0 L457.6 508.0 L461.0 420.0 L465.2 331.1 L467.5 315.0 L470.2 334.5 L475.3 358.0 L480.3 412.0 L483.0 466.0 L485.4 381.7 L487.5 292.5 L492.1 321.0 L497.2 371.6 L503.9 432.2 L507.3 459.2 L510.7 354.7 L515.7 270.4 L519.1 235.0 L521.5 273.8 L524.1 331.1 L528.2 405.3 L530.9 452.4 L533.6 381.7 L539.3 297.4 L544.4 341.2 L547.7 415.4 L549.4 466.0 L552.8 374.9 L557.9 290.7 L560.0 340.0 L562.0 420.0 L563.0 443.0 L564.5 400.0 L566.3 371.6 L569.6 398.5 L574.7 415.4 L578.1 435.6 L581.4 364.8 L583.8 330.0 L586.0 255.0 L588.0 200.0 L592.3 198.0 L594.4 224.0 L596.5 266.0 L600.0 270.0 L604.0 255.0 L606.0 224.0 L608.2 160.0 L611.0 90.0 L613.6 40.0 L615.3 80.0 L618.0 130.0 L620.0 190.0 L621.5 214.0 L623.0 180.0 L625.0 156.0 L628.0 150.0 L631.0 136.0 L634.0 110.0 L637.2 70.0 L640.0 110.0 L642.2 148.0 L645.0 194.0 L648.0 228.0 L649.0 266.0 L652.0 320.0 L654.7 341.6 L657.0 300.0 L660.0 250.0 L662.5 180.0 L665.0 250.0 L669.2 334.8 L672.0 310.0 L675.0 358.4 L678.0 290.0 L682.0 230.0 L686.0 200.0 L689.4 100.8 L692.0 200.0 L696.0 298.0 L701.2 334.8 L705.0 260.0 L708.0 210.0 L712.0 192.0 L715.0 270.0 L718.0 345.0 L721.0 400.0 L724.8 425.8 L728.0 320.0 L731.0 230.0 L734.0 198.0 L738.0 260.0 L743.5 332.2 L748.6 362.6 L753.6 362.6 L757.0 250.0 L759.0 186.0 L762.0 240.0 L764.0 344.0 L768.0 400.0 L772.0 440.0 L775.0 466.0 L778.0 400.0 L781.0 330.0 L784.0 281.0 L787.0 320.0 L790.6 411.0 L793.0 430.0 L796.9 397.0 L799.0 410.0 L801.0 330.0 L803.0 250.0 L806.0 180.0 L808.0 176.0 L812.0 200.0 L816.0 266.0" stroke="#A4FC14" stroke-width="2" fill="none" shape-rendering="crispEdges"/>
<path d="M67.1 485.1 L70.4 491.8 L73.8 498.5 L77.2 495.2 L80.5 498.5 L82.9 495.2 L86.3 501.9 L90.7 498.5 L94.0 518.8 L95.7 539.0 L97.4 549.1 L99.8 532.2 L102.4 488.4 L105.8 478.3 L108.5 488.4 L111.9 513.7 L114.2 501.9 L117.6 508.7 L120.0 513.7 L122.7 498.5 L126.0 448.0 L129.4 410.9 L131.8 402.5 L134.5 417.6 L137.8 427.8 L141.2 427.8 L144.6 441.2 L148.0 434.5 L151.3 417.6 L155.7 400.8 L158.1 402.5 L161.4 410.9 L165.8 414.3 L169.9 410.9 L173.2 397.4 L175.9 373.8 L178.3 350.2 L180.7 346.9 L184.1 385.4 L188.2 395.7 L192.4 393.7 L196.5 369.0 L200.6 336.0 L203.9 331.9 L208.0 352.5 L210.9 377.2 L213.8 381.3 L219.1 373.1 L223.3 344.2 L227.4 311.3 L231.5 323.6 L235.6 360.7 L239.7 364.8 L243.9 336.0 L248.0 303.0 L252.1 282.4 L256.2 290.7 L260.3 307.2 L264.5 321.6 L267.3 311.3 L271.5 261.8 L275.6 224.8 L278.9 216.5 L282.2 237.1 L286.3 257.7 L290.4 270.1 L294.5 253.6 L298.7 233.0 L302.8 249.5 L306.9 270.1 L311.8 278.3 L316.0 282.4 L318.0 275.0 L321.0 245.0 L323.3 206.0 L326.3 196.0 L329.0 210.0 L332.4 240.0 L336.5 257.7 L339.8 266.0 L343.9 237.1 L348.0 195.9 L350.1 183.6 L353.0 212.4 L355.0 274.2 L357.1 336.0 L359.1 397.8 L360.3 432.0 L364.0 380.0 L368.0 330.0 L374.8 311.3 L378.0 350.0 L382.9 420.0 L388.0 350.0 L393.0 300.0 L398.3 286.6 L403.0 320.0 L410.0 406.0 L416.0 330.0 L423.8 286.6 L428.0 310.0 L433.9 356.0 L440.0 300.0 L446.9 270.0 L450.0 330.0 L455.2 432.0 L456.1 439.0 L460.1 398.5 L465.2 351.3 L470.2 321.0 L473.6 331.1 L478.7 371.6 L483.0 388.4 L487.1 358.1 L492.1 324.4 L495.5 317.6 L498.9 341.2 L502.2 364.8 L505.6 358.1 L510.7 354.7 L515.7 317.6 L519.1 285.6 L522.5 307.5 L525.8 348.0 L529.2 358.1 L532.6 348.0 L537.6 317.6 L541.7 304.2 L546.1 317.6 L551.1 341.2 L556.2 354.7 L561.2 337.9 L566.3 331.1 L569.7 324.4 L573.0 341.2 L578.1 354.7 L582.1 331.1 L586.5 290.7 L589.9 267.1 L593.3 257.0 L600.0 267.1 L605.2 269.3 L608.5 239.0 L613.6 191.8 L617.0 178.3 L620.3 191.8 L623.7 185.1 L627.1 195.2 L630.4 185.1 L633.8 164.8 L637.2 151.3 L640.6 149.7 L643.9 171.6 L647.3 198.5 L650.7 222.1 L652.4 232.2 L655.7 218.8 L660.8 205.3 L665.8 198.5 L669.2 225.5 L672.6 252.5 L676.0 286.2 L679.3 249.1 L684.4 212.0 L689.4 181.7 L694.5 208.7 L701.2 235.6 L706.3 245.7 L711.3 218.8 L714.7 208.7 L718.1 232.2 L723.1 262.6 L728.2 252.5 L733.3 222.1 L736.6 212.0 L740.0 215.4 L741.9 237.9 L746.9 248.0 L752.0 248.0 L757.0 231.1 L760.4 210.9 L763.8 224.4 L768.8 241.2 L773.9 258.1 L777.2 254.7 L782.3 248.0 L787.4 244.6 L790.7 261.5 L794.1 288.4 L796.5 312.0 L798.5 322.1 L800.8 298.5 L804.2 264.8 L807.6 237.9 L811.0 221.0 L814.3 224.4 L817.7 234.5" stroke="#AA00FF" stroke-width="2" fill="none" shape-rendering="crispEdges"/>
<path d="M66.5 737V30" stroke="#404040" stroke-width="1"/><path d="M63 733.5H820" stroke="#404040" stroke-width="1"/>
<path d="M63.5 31L66.5 25.5L69.5 31Z" fill="#7F0F0F"/><path d="M818.5 730.5L824 733.5L818.5 736.5Z" fill="#7F0F0F"/>
<text x="422.5" y="18" text-anchor="middle" class="title">3.5m Tel. Temperatures</text>
<text transform="translate(15,382) rotate(-90)" text-anchor="middle" class="lab2">Deg.C</text>
<text transform="translate(836,61) rotate(90)" text-anchor="middle" class="wm">RRDTOOL / TOBI OETIKER</text>
<rect x="15.5" y="754.5" width="8.5" height="9" fill="#0000FF" stroke="#000" stroke-width="1"/>
<text x="29.8" y="763" class="leg">Elevator</text>
<rect x="231.5" y="754.5" width="8.5" height="9" fill="#00FFEE" stroke="#000" stroke-width="1"/>
<text x="245.8" y="763" class="leg">Telescope Base</text>
<rect x="446.5" y="754.5" width="8.5" height="9" fill="#FF0000" stroke="#000" stroke-width="1"/>
<text x="460.8" y="763" class="leg">Craneway Right</text>
<rect x="662.5" y="754.5" width="8.5" height="9" fill="#E08600" stroke="#000" stroke-width="1"/>
<text x="676.8" y="763" class="leg">Craneway Left</text>
<rect x="15.5" y="768.5" width="8.5" height="9" fill="#4AA000" stroke="#000" stroke-width="1"/>
<text x="29.8" y="777" class="leg">Domefloor</text>
<rect x="231.5" y="768.5" width="8.5" height="9" fill="#00CCFF" stroke="#000" stroke-width="1"/>
<text x="245.8" y="777" class="leg">Telescope M1</text>
<rect x="446.5" y="768.5" width="8.5" height="9" fill="#FFCC00" stroke="#000" stroke-width="1"/>
<text x="460.8" y="777" class="leg">Telescope Structure</text>
<rect x="662.5" y="768.5" width="8.5" height="9" fill="#5A5A5A" stroke="#000" stroke-width="1"/>
<text x="676.8" y="777" class="leg">Telescope Top End</text>
<rect x="15.5" y="782.5" width="8.5" height="9" fill="#AAFA20" stroke="#000" stroke-width="1"/>
<text x="29.8" y="791" class="leg">Outside Temperature</text>
<rect x="669.5" y="782.5" width="8.5" height="9" fill="#AA00FF" stroke="#000" stroke-width="1"/>
<text x="683.8" y="791" class="leg">Mean Dome Temperature</text>
</svg></body></html>
